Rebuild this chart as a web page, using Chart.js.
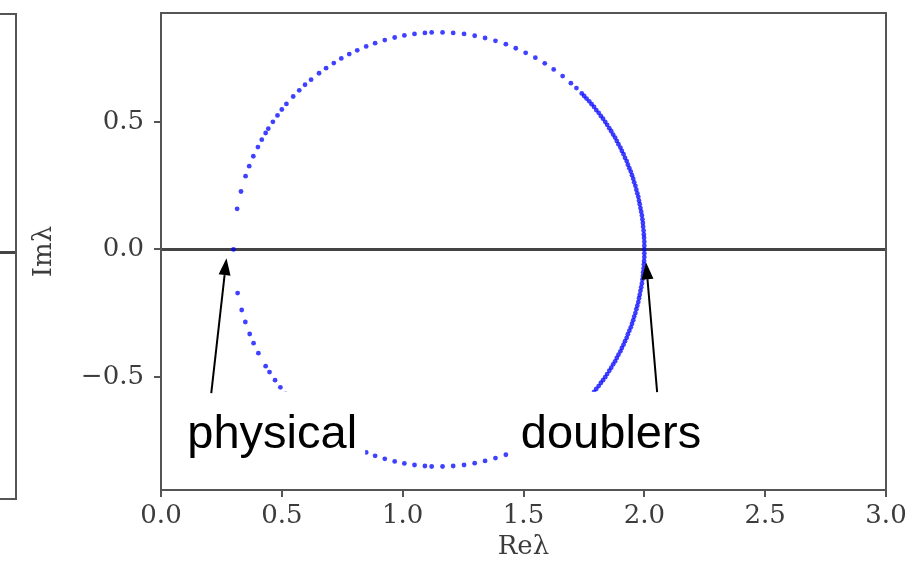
<!DOCTYPE html>
<html><head><meta charset="utf-8">
<script src="https://cdn.jsdelivr.net/npm/chart.js@4"></script>
<style>
html,body{margin:0;padding:0;background:#fff;}
#wrap{position:relative;width:916px;height:566px;overflow:hidden;}
#leftPanel{position:absolute;left:-10px;top:13px;width:23px;height:483px;border:2px solid #555;}
#leftZero{position:absolute;left:0;top:251px;width:15px;height:3px;background:#444;}
canvas{position:absolute;left:0;top:0;}
</style></head><body>
<div id="wrap"><div id="leftPanel"></div><div id="leftZero"></div><canvas id="c" width="916" height="566"></canvas></div>
<script>
// ---- data ----
const xTickValues = [0, 0.5, 1.0, 1.5, 2.0, 2.5, 3.0];
const xTickLabels = ['0.0', '0.5', '1.0', '1.5', '2.0', '2.5', '3.0'];
const yTickValues = [-0.5, 0.0, 0.5];
const yTickLabels = ['\u22120.5', '0.0', '0.5'];

const reUpper = [0.300,0.315,0.331,0.350,0.365,0.382,0.401,0.417,0.433,0.444,0.463,0.482,0.500,0.519,0.547,0.572,0.596,0.621,0.654,0.683,0.715,0.746,0.779,0.812,0.849,0.886,0.926,0.967,1.007,1.049,1.092,1.120,1.165,1.209,1.254,1.298,1.341,1.384,1.427,1.468,1.509,1.549,1.588,1.625,1.662,1.696,1.719,1.741,1.751,1.761,1.772,1.782,1.792,1.801,1.811,1.820,1.829,1.838,1.846,1.855,1.863,1.871,1.879,1.886,1.893,1.901,1.907,1.914,1.920,1.927,1.932,1.938,1.944,1.949,1.954,1.958,1.963,1.967,1.971,1.975,1.978,1.981,1.984,1.987,1.990,1.992,1.994,1.995,1.997,1.998,1.999,2.000,2.000,2.000];
const imUpper = [0.000,0.159,0.227,0.287,0.326,0.365,0.401,0.430,0.456,0.473,0.500,0.525,0.548,0.570,0.599,0.623,0.645,0.665,0.690,0.710,0.730,0.748,0.765,0.780,0.795,0.808,0.820,0.830,0.838,0.844,0.848,0.850,0.850,0.848,0.844,0.837,0.828,0.817,0.804,0.788,0.770,0.751,0.729,0.705,0.679,0.651,0.632,0.611,0.601,0.591,0.580,0.569,0.558,0.546,0.535,0.523,0.512,0.500,0.488,0.475,0.463,0.450,0.438,0.425,0.412,0.399,0.386,0.373,0.359,0.346,0.332,0.318,0.305,0.291,0.277,0.263,0.249,0.234,0.220,0.206,0.191,0.177,0.162,0.148,0.133,0.118,0.104,0.089,0.074,0.059,0.045,0.030,0.015,0.000];

const reLower = [0.317,0.334,0.349,0.367,0.383,0.403,0.433,0.449,0.472,0.494,0.516,0.547,0.572,0.596,0.621,0.654,0.683,0.715,0.746,0.779,0.812,0.849,0.886,0.926,0.967,1.007,1.049,1.092,1.120,1.165,1.209,1.254,1.298,1.341,1.384,1.427,1.468,1.509,1.549,1.588,1.625,1.662,1.696,1.719,1.741,1.751,1.761,1.772,1.782,1.792,1.801,1.811,1.820,1.829,1.838,1.846,1.855,1.863,1.871,1.879,1.886,1.893,1.901,1.907,1.914,1.920,1.927,1.932,1.938,1.944,1.949,1.954,1.958,1.963,1.967,1.971,1.975,1.978,1.981,1.984,1.987,1.990,1.992,1.994,1.995,1.997,1.998,1.999,2.000,2.000];
const imLower = [-0.171,-0.237,-0.284,-0.331,-0.367,-0.406,-0.457,-0.480,-0.512,-0.540,-0.566,-0.599,-0.623,-0.645,-0.665,-0.690,-0.710,-0.730,-0.748,-0.765,-0.780,-0.795,-0.808,-0.820,-0.830,-0.838,-0.844,-0.848,-0.850,-0.850,-0.848,-0.844,-0.837,-0.828,-0.817,-0.804,-0.788,-0.770,-0.751,-0.729,-0.705,-0.679,-0.651,-0.632,-0.611,-0.601,-0.591,-0.580,-0.569,-0.558,-0.546,-0.535,-0.523,-0.512,-0.500,-0.488,-0.475,-0.463,-0.450,-0.438,-0.425,-0.412,-0.399,-0.386,-0.373,-0.359,-0.346,-0.332,-0.318,-0.305,-0.291,-0.277,-0.263,-0.249,-0.234,-0.220,-0.206,-0.191,-0.177,-0.162,-0.148,-0.133,-0.118,-0.104,-0.089,-0.074,-0.059,-0.045,-0.030,-0.015];

const annotationTexts = ['physical', 'doublers'];

// ---- build ----
const toPts = (xs, ys) => xs.map((v, i) => ({x: v, y: ys[i]}));
const serif = '"DejaVu Serif", "Liberation Serif", serif';
const tickColor = '#3c3c3c';

const decor = {
  id: 'decor',
  beforeDatasetsDraw(chart) {
    const {ctx, chartArea: a, scales: {y}} = chart;
    const y0 = y.getPixelForValue(0);
    ctx.save();
    ctx.strokeStyle = '#444';
    ctx.lineWidth = 3;
    ctx.beginPath(); ctx.moveTo(a.left, y0); ctx.lineTo(a.right, y0); ctx.stroke();
    ctx.restore();
  },
  afterDatasetsDraw(chart, args, opts) {
    const {ctx, chartArea: a, scales: {x, y}} = chart;
    ctx.save();
    ctx.font = '47px "Liberation Sans", Arial, sans-serif';
    opts.items.forEach(it => {
      const px = x.getPixelForValue(it.tx), py = y.getPixelForValue(it.ty);
      const w = ctx.measureText(it.text).width;
      ctx.fillStyle = '#fff';
      ctx.fillRect(px - 8, py - 56, w + 16, 68);
      ctx.fillStyle = '#000';
      ctx.textBaseline = 'alphabetic';
      ctx.textAlign = 'left';
      ctx.fillText(it.text, px, py);
      const x1 = x.getPixelForValue(it.tailX), y1 = y.getPixelForValue(it.tailY);
      const x2 = x.getPixelForValue(it.tipX), y2 = y.getPixelForValue(it.tipY);
      const ang = Math.atan2(y2 - y1, x2 - x1);
      const hl = 17, hw = 6;
      const bx = x2 - hl * Math.cos(ang), by = y2 - hl * Math.sin(ang);
      ctx.strokeStyle = '#000'; ctx.lineWidth = 2;
      ctx.beginPath(); ctx.moveTo(x1, y1); ctx.lineTo(bx, by); ctx.stroke();
      ctx.beginPath();
      ctx.moveTo(x2, y2);
      ctx.lineTo(bx + hw * Math.sin(ang), by - hw * Math.cos(ang));
      ctx.lineTo(bx - hw * Math.sin(ang), by + hw * Math.cos(ang));
      ctx.closePath(); ctx.fillStyle = '#000'; ctx.fill();
    });
    ctx.strokeStyle = '#555';
    ctx.lineWidth = 2;
    ctx.strokeRect(a.left, a.top, a.right - a.left, a.bottom - a.top);
    ctx.restore();
  }
};

const ptStyle = {
  showLine: false,
  pointRadius: 2.4,
  pointHoverRadius: 2.4,
  pointBorderWidth: 0,
  pointBackgroundColor: 'rgba(0,0,255,0.75)',
  pointBorderColor: 'rgba(0,0,255,0)'
};

new Chart(document.getElementById('c'), {
  type: 'scatter',
  data: {
    datasets: [
      Object.assign({label: 'upper', data: toPts(reUpper, imUpper)}, ptStyle),
      Object.assign({label: 'lower', data: toPts(reLower, imLower)}, ptStyle)
    ]
  },
  options: {
    responsive: false,
    animation: false,
    devicePixelRatio: 1,
    layout: {padding: {top: 13, right: 30, left: 0, bottom: 0}},
    plugins: {
      legend: {display: false},
      tooltip: {enabled: false},
      decor: {
        items: [
          {text: annotationTexts[0], tx: 0.109, ty: -0.777, tipX: 0.271, tipY: -0.034, tailX: 0.208, tailY: -0.563},
          {text: annotationTexts[1], tx: 1.489, ty: -0.777, tipX: 2.007, tipY: -0.050, tailX: 2.053, tailY: -0.559}
        ]
      }
    },
    scales: {
      x: {
        type: 'linear', min: 0, max: 3,
        afterBuildTicks: s => { s.ticks = xTickValues.map(v => ({value: v})); },
        afterFit: s => { s.height = 76; s.paddingLeft = 0; s.paddingRight = 0; },
        ticks: {callback: (v, i) => xTickLabels[i], font: {family: serif, size: 26}, color: tickColor, padding: 4, maxRotation: 0, autoSkip: false},
        grid: {display: true, drawOnChartArea: false, drawTicks: true, tickLength: 7, color: '#555', lineWidth: 2},
        border: {display: false},
        title: {display: true, text: 'Re\u03BB', font: {family: serif, size: 26}, color: tickColor, padding: {top: 0, bottom: 3}}
      },
      y: {
        type: 'linear', min: -0.942, max: 0.926,
        afterBuildTicks: s => { s.ticks = yTickValues.map(v => ({value: v})); },
        afterFit: s => { s.width = 161; s.paddingTop = 0; s.paddingBottom = 0; },
        ticks: {callback: (v, i) => yTickLabels[i], font: {family: serif, size: 26}, color: tickColor, padding: 10, autoSkip: false},
        grid: {display: true, drawOnChartArea: false, drawTicks: true, tickLength: 7, color: '#555', lineWidth: 2},
        border: {display: false},
        title: {display: true, text: 'Im\u03BB', font: {family: serif, size: 26}, color: tickColor, padding: {top: 29, bottom: 0}}
      }
    }
  },
  plugins: [decor]
});
</script>
</body></html>
